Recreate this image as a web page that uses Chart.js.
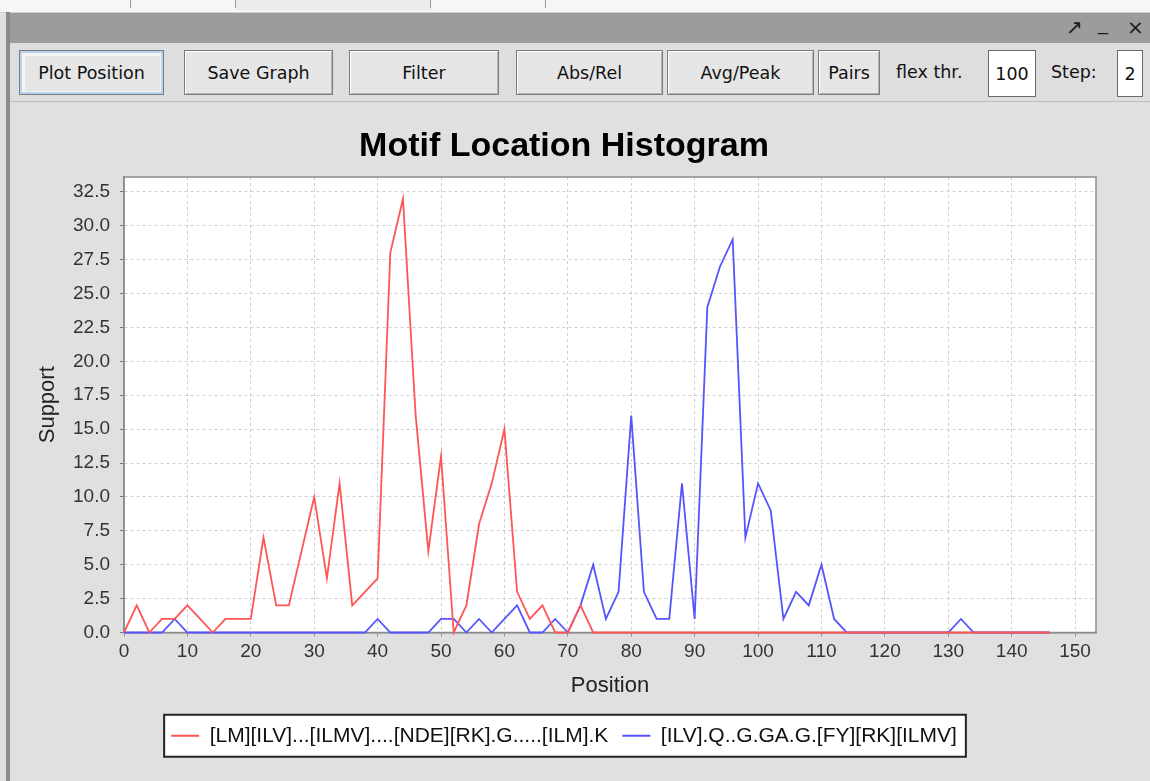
<!DOCTYPE html>
<html>
<head>
<meta charset="utf-8">
<title>Motif Location Histogram</title>
<script src="https://cdn.jsdelivr.net/npm/chart.js@4/dist/chart.umd.min.js"></script>
<style>
  html, body { margin: 0; padding: 0; }
  body {
    width: 1150px; height: 781px; overflow: hidden; position: relative;
    background: #e0e0e0; font-family: "DejaVu Sans", sans-serif;
  }
  .strip { position: absolute; left: 0; top: 0; width: 1150px; height: 12px; background: #f6f6f6; border-bottom: 1px solid #d0d0d0; }
  .strip .tab { position: absolute; top: 0; width: 1px; height: 8px; background: #9a9a9a; }
  .strip .shade { position: absolute; left: 236px; top: 0; width: 195px; height: 10px; background: #ececec; }
  .edge { position: absolute; left: 6px; top: 12px; width: 4px; height: 769px; background: #8a8a8a; }
  .titlebar { position: absolute; left: 10px; top: 13px; width: 1140px; height: 30px; background: #9c9c9c; }
  .titlebar span { position: absolute; top: 2px; font-size: 20px; color: #1a1a1a; }
  .toolbar { position: absolute; left: 10px; top: 43px; width: 1140px; height: 58px; background: #dedede; border-bottom: 1px solid #bdbdbd; }
  .btn {
    position: absolute; top: 7px; height: 45px; box-sizing: border-box;
    background: #e6e6e6; border: 1px solid #7c7c7c;
    box-shadow: inset 1px 1px 0 #ffffff, inset -1px -1px 0 #b4b4b4;
    font-size: 17.5px; color: #111; display: flex; align-items: center; justify-content: center;
  }
  .btn.focus { box-shadow: inset 0 0 0 2px #b9d3ee, inset 1px 1px 0 4px #f4f4f4; }
  .lbl { position: absolute; top: 7px; height: 45px; line-height: 45px; font-size: 17.5px; color: #111; }
  .field {
    position: absolute; top: 7px; height: 47px; box-sizing: border-box; background: #fff;
    border: 1px solid #6a6a6a; font-size: 17.5px; color: #111;
    display: flex; align-items: center; justify-content: center;
  }
  #chart { position: absolute; left: 12px; top: 103px; }
</style>
</head>
<body>
<div class="strip">
  <div class="shade"></div>
  <div class="tab" style="left:130px"></div>
  <div class="tab" style="left:235px"></div>
  <div class="tab" style="left:430px"></div>
  <div class="tab" style="left:545px"></div>
</div>
<div class="edge"></div>
<div class="titlebar">
  <span style="left:1056px">&#8599;</span>
  <span style="left:1088px; top:-2px">_</span>
  <span style="left:1117px">&#215;</span>
</div>
<div class="toolbar">
  <div class="btn focus" style="left:9px; width:145px">Plot Position</div>
  <div class="btn" style="left:174px; width:149px">Save Graph</div>
  <div class="btn" style="left:339px; width:150px">Filter</div>
  <div class="btn" style="left:506px; width:147px">Abs/Rel</div>
  <div class="btn" style="left:657px; width:147px">Avg/Peak</div>
  <div class="btn" style="left:808px; width:62px">Pairs</div>
  <div class="lbl" style="left:886px">flex thr.</div>
  <div class="field" style="left:978px; width:48px">100</div>
  <div class="lbl" style="left:1041px">Step:</div>
  <div class="field" style="left:1107px; width:26px">2</div>
</div>
<canvas id="chart" width="1104" height="678"></canvas>
<script>
// Motif start positions (bin step 2) and the support counted in each bin.
const positions = [0, 2, 4, 6, 8, 10, 12, 14, 16, 18, 20, 22, 24, 26, 28, 30, 32, 34, 36, 38,
  40, 42, 44, 46, 48, 50, 52, 54, 56, 58, 60, 62, 64, 66, 68, 70, 72, 74, 76, 78,
  80, 82, 84, 86, 88, 90, 92, 94, 96, 98, 100, 102, 104, 106, 108, 110, 112, 114, 116, 118,
  120, 122, 124, 126, 128, 130, 132, 134, 136, 138, 140, 142, 144, 146];

const motifA = "[LM][ILV]...[ILMV]....[NDE][RK].G.....[ILM].K";
const supportA = [0, 2, 0, 1, 1, 2, 1, 0, 1, 1, 1, 7, 2, 2, 6, 10, 4, 11, 2, 3,
  4, 28, 32, 16, 6, 13, 0, 2, 8, 11, 15, 3, 1, 2, 0, 0, 2, 0, 0, 0,
  0, 0, 0, 0, 0, 0, 0, 0, 0, 0, 0, 0, 0, 0, 0, 0, 0, 0, 0, 0,
  0, 0, 0, 0, 0, 0, 0, 0, 0, 0, 0, 0, 0, 0];

const motifB = "[ILV].Q..G.GA.G.[FY][RK][ILMV]";
const supportB = [0, 0, 0, 0, 1, 0, 0, 0, 0, 0, 0, 0, 0, 0, 0, 0, 0, 0, 0, 0,
  1, 0, 0, 0, 0, 1, 1, 0, 1, 0, 1, 2, 0, 0, 1, 0, 2, 5, 1, 3,
  16, 3, 1, 1, 11, 1, 24, 27, 29, 7, 11, 9, 1, 3, 2, 5, 1, 0, 0, 0,
  0, 0, 0, 0, 0, 0, 1, 0, 0, 0, 0, 0, 0, 0];

const chartTitle = "Motif Location Histogram";
const xTitle = "Position";
const yTitle = "Support";

const toPoints = (vals) => positions.map((p, i) => ({ x: p, y: vals[i] }));

// White plot background, grey plot outline (under the series), and the framed legend box.
const frame = {
  id: 'frame',
  beforeDraw(chart) {
    const { ctx, chartArea: a, legend } = chart;
    ctx.save();
    ctx.fillStyle = '#ffffff';
    ctx.fillRect(a.left, a.top, a.right - a.left, a.bottom - a.top);
    if (legend && legend.legendHitBoxes && legend.legendHitBoxes.length) {
      const boxes = legend.legendHitBoxes;
      const l = Math.min(...boxes.map(b => b.left)) - 7;
      const r = Math.max(...boxes.map(b => b.left + b.width)) + 9;
      const cy = boxes[0].top + boxes[0].height / 2;
      ctx.fillRect(l, cy - 21, r - l, 42);
      ctx.strokeStyle = '#222';
      ctx.lineWidth = 2;
      ctx.strokeRect(l, cy - 21, r - l, 42);
    }
    ctx.restore();
  },
  beforeDatasetsDraw(chart) {
    const { ctx, chartArea: a } = chart;
    ctx.save();
    ctx.strokeStyle = '#8c8c8c';
    ctx.lineWidth = 1.5;
    ctx.strokeRect(a.left, a.top, a.right - a.left, a.bottom - a.top);
    ctx.restore();
  }
};

const tickFont = { family: 'Liberation Sans', size: 19 };
const titleFont = { family: 'Liberation Sans', size: 22 };

new Chart(document.getElementById('chart'), {
  type: 'line',
  data: {
    datasets: [
      { label: motifA, data: toPoints(supportA), borderColor: '#ff5555', backgroundColor: '#ff5555',
        borderWidth: 1.8, pointRadius: 0, tension: 0, clip: false },
      { label: motifB, data: toPoints(supportB), borderColor: '#5555ff', backgroundColor: '#5555ff',
        borderWidth: 1.8, pointRadius: 0, tension: 0, clip: false }
    ]
  },
  options: {
    responsive: false,
    animation: false,
    events: [],
    layout: { padding: { left: 0, right: 0, top: 0, bottom: 24.75 } },
    plugins: {
      title: {
        display: true, text: chartTitle, color: '#000',
        font: { family: 'Liberation Sans', size: 34, weight: 'bold', lineHeight: 1.2 },
        padding: { top: 23.6, bottom: 9.6 }
      },
      legend: {
        position: 'bottom',
        labels: {
          usePointStyle: true, pointStyle: 'line', pointStyleWidth: 28,
          padding: 14, color: '#111',
          font: { family: 'Liberation Sans', size: 21 }
        }
      },
      tooltip: { enabled: false }
    },
    scales: {
      x: {
        type: 'linear', min: 0, max: 153.3,
        afterFit(s) { s.height = 78.75; },
        ticks: { stepSize: 10, includeBounds: false, autoSkip: false, maxRotation: 0,
                 padding: 4, color: '#333', font: tickFont },
        grid: { color: '#cfcfcf', lineWidth: 1, tickLength: 4, tickColor: '#7a7a7a',
                tickBorderDash: [1, 0] },
        border: { display: true, color: '#8c8c8c', width: 1.5, dash: [3, 3] },
        title: { display: true, text: xTitle, color: '#222', font: titleFont,
                 padding: { top: 0, bottom: 12.55 } }
      },
      y: {
        type: 'linear', min: 0, max: 33.6,
        afterFit(s) { s.width = 112; },
        ticks: { stepSize: 2.5, includeBounds: false, padding: 10, color: '#333', font: tickFont,
                 callback: (v) => v.toFixed(1) },
        grid: { color: '#cfcfcf', lineWidth: 1, tickLength: 4, tickColor: '#7a7a7a',
                tickBorderDash: [1, 0] },
        border: { display: true, color: '#8c8c8c', width: 1.5, dash: [3, 3] },
        title: { display: true, text: yTitle, color: '#222', font: titleFont,
                 padding: { top: 22.8, bottom: 0 } }
      },
      // empty margin on the right of the plot
      gutter: {
        type: 'linear', position: 'right', display: true,
        afterFit(s) { s.width = 20; },
        ticks: { display: false },
        grid: { display: false, drawOnChartArea: false, drawTicks: false },
        border: { display: false }
      }
    }
  },
  plugins: [frame]
});
</script>
</body>
</html>
